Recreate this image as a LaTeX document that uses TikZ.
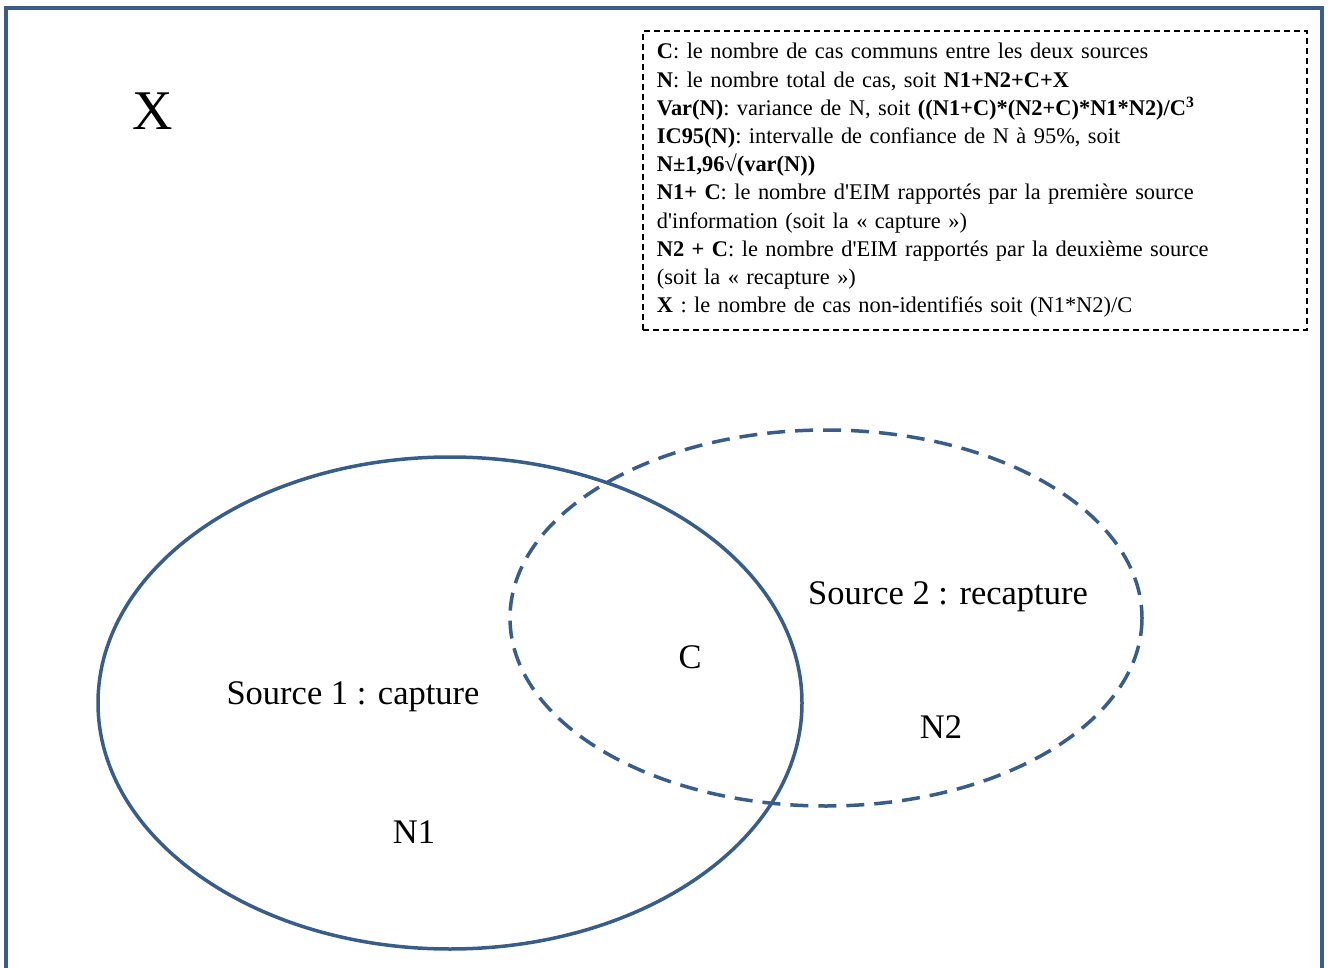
\documentclass[tikz,border=0pt]{standalone}
\usepackage{fontspec}
\setmainfont{Liberation Serif}
\usepackage{tikz}
\usetikzlibrary{positioning}
\definecolor{venn}{RGB}{56,93,138}

\begin{document}
\begin{tikzpicture}[x=1pt, y=-1pt,
  setline/.style={draw=venn, line width=3.5pt},
  biglabel/.style={font=\fontsize{34.5}{40}\selectfont},
  legendbox/.style={draw=black, dashed, line width=1.8pt, dash pattern=on 6pt off 4pt,
    anchor=north west, align=left, text width=636pt, inner xsep=14pt, inner ysep=12.5pt,
    font=\fontsize{22.4}{28.2}\selectfont}]

\useasboundingbox (0,0) rectangle (1331,968);

% frame
\draw[draw=venn, line width=3.5pt] (6,968) -- (6,8) -- (1322,8) -- (1322,968);

% the two sources
\draw[setline] (450,703) ellipse (352 and 246);
\draw[setline, dashed, dash pattern=on 18pt off 10pt] (826,618) ellipse (316 and 188);

\node[font=\fontsize{56}{60}\selectfont] (xlabel) at (153,111) {X};
\node[biglabel] (source1) at (353,697) {Source 1 : capture};
\node[biglabel] (nun) at (414,832) {N1};
\node[biglabel] (common) at (690,657) {C};
\node[biglabel] (source2) at (948,597) {Source 2 : recapture};
\node[biglabel] (ndeux) at (941,727) {N2};

\node[legendbox] (legend) at (642,30) {%
\textbf{C}: le nombre de cas communs entre les deux sources\\
\textbf{N}: le nombre total de cas, soit \textbf{N1+N2+C+X}\\
\textbf{Var(N)}: variance de N, soit \textbf{((N1+C)*(N2+C)*N1*N2)/C\textsuperscript{3}}\\
\textbf{IC95(N)}: intervalle de confiance de N à 95\%, soit\\
\textbf{N±1,96√(var(N))}\\
\textbf{N1+ C}: le nombre d\textquotesingle EIM rapportés par la première source\\
d\textquotesingle information (soit la « capture »)\\
\textbf{N2 + C}: le nombre d\textquotesingle EIM rapportés par la deuxième source\\
(soit la « recapture »)\\
\textbf{X} : le nombre de cas non-identifiés soit (N1*N2)/C};

\end{tikzpicture}
\end{document}
